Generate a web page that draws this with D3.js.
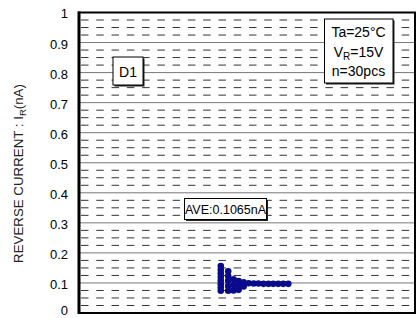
<!DOCTYPE html>
<html><head><meta charset="utf-8">
<script src="https://cdn.jsdelivr.net/npm/d3@7"></script>
<style>body{margin:0;background:#fff}svg{display:block;font-family:"Liberation Sans",Arial,sans-serif}</style>
</head><body><svg id="c" width="418" height="318"></svg>
<script>
// sample positions (arbitrary horizontal units) and reverse current values (nA)
const sampleX = [42.2,42.2,42.2,42.2,42.2,42.2,42.2,42.2,
                 44.4,44.4,44.4,44.4,44.4,
                 46.0,46.0,46.0,
                 47.5,47.5,47.5,
                 49.0,49.0,
                 50.5,52.0,53.4,54.9,56.4,57.8,59.3,60.8,62.3];
const sampleIR = [0.156,0.144,0.132,0.120,0.108,0.096,0.085,0.074,
                  0.139,0.123,0.107,0.090,0.074,
                  0.112,0.093,0.075,
                  0.106,0.090,0.077,
                  0.102,0.088,
                  0.099,0.098,0.098,0.097,0.097,0.097,0.097,0.097,0.097];
const yTicks = [0,0.1,0.2,0.3,0.4,0.5,0.6,0.7,0.8,0.9,1];
const yTickLabels = ["0","0.1","0.2","0.3","0.4","0.5","0.6","0.7","0.8","0.9","1"];
const minorStep = 0.025;
const condLines = ["Ta=25°C","V|R|=15V","n=30pcs"];
const deviceLabel = "D1";
const aveLabel = "AVE:0.1065nA";

const svg = d3.select("#c");
const L=79, R=415, T=12.5, B=313;
const x = d3.scaleLinear().domain([0,100]).range([L,R]);
const y = d3.scaleLinear().domain([0,1]).range([B,T]);

// minor dashed grid
const minors = d3.range(1,40).map(i=>i*minorStep).filter(v=>Math.abs(v*10-Math.round(v*10))>1e-6);
const period = (R-L)/22;
svg.append("g").selectAll("line").data(minors).join("line")
  .attr("x1",L).attr("x2",R).attr("y1",d=>y(d)).attr("y2",d=>y(d))
  .attr("stroke","#333").attr("stroke-width",1)
  .attr("stroke-dasharray",`7.5 ${period-7.5}`).attr("stroke-dashoffset",period-2);
// major grid
svg.append("g").selectAll("line").data(yTicks.slice(1,-1)).join("line")
  .attr("x1",L).attr("x2",R).attr("y1",d=>y(d)).attr("y2",d=>y(d))
  .attr("stroke","#777").attr("stroke-width",1);

// y axis via d3
const yAxis = d3.axisLeft(y).tickValues(yTicks).tickFormat((d,i)=>yTickLabels[i]).tickSize(0).tickPadding(11);
const ga = svg.append("g").attr("transform",`translate(${L},0)`).call(yAxis);
ga.select(".domain").remove();
ga.selectAll("text").attr("font-size",13).attr("fill","#000").attr("font-family","Liberation Sans, Arial, sans-serif")
  .attr("dy",d=>d===0?"0.1em":"0.42em");

// frame
svg.append("rect").attr("x",L).attr("y",T).attr("width",R-L).attr("height",B-T)
  .attr("fill","none").attr("stroke","#000").attr("stroke-width",2);
svg.append("line").attr("x1",L).attr("x2",L).attr("y1",T-1).attr("y2",B+1).attr("stroke","#000").attr("stroke-width",3);

// y title
const tt = svg.append("text").attr("transform",`translate(23,173.5) rotate(-90)`)
  .attr("text-anchor","middle").attr("font-size",13.3).attr("fill","#222");
tt.append("tspan").text("REVERSE CURRENT : I");
tt.append("tspan").attr("font-size",9.5).attr("dy",3).text("R");
tt.append("tspan").attr("dy",-3).text("(nA)");

// points
svg.append("g").selectAll("circle").data(sampleX).join("circle")
  .attr("cx",d=>x(d)).attr("cy",(d,i)=>y(sampleIR[i])).attr("r",3.3)
  .attr("fill","#0a0a8c");

function box(x0,y0,w,h){
  svg.append("rect").attr("x",x0+1.5).attr("y",y0+1.5).attr("width",w).attr("height",h).attr("fill","#222");
  svg.append("rect").attr("x",x0).attr("y",y0).attr("width",w).attr("height",h).attr("fill","#fff").attr("stroke","#000").attr("stroke-width",1);
}
// D1 box
box(113,57,30,28);
svg.append("text").attr("x",128).attr("y",76.5).attr("text-anchor","middle").attr("font-size",14).text(deviceLabel);
// conditions box
box(324.5,19,68.5,64);
condLines.forEach((s,i)=>{
  const t = svg.append("text").attr("x",358.5).attr("y",37+i*19.5).attr("text-anchor","middle").attr("font-size",14);
  const parts = s.split("|");
  if(parts.length===1){t.text(s);} else {
    t.append("tspan").text(parts[0]);
    t.append("tspan").attr("font-size",10).attr("dy",3).text(parts[1]);
    t.append("tspan").attr("dy",-3).text(parts[2]);
  }
});
// average box
box(184.5,198.5,82,21);
svg.append("text").attr("x",225.5).attr("y",214).attr("text-anchor","middle").attr("font-size",12.5).text(aveLabel);
</script></body></html>
